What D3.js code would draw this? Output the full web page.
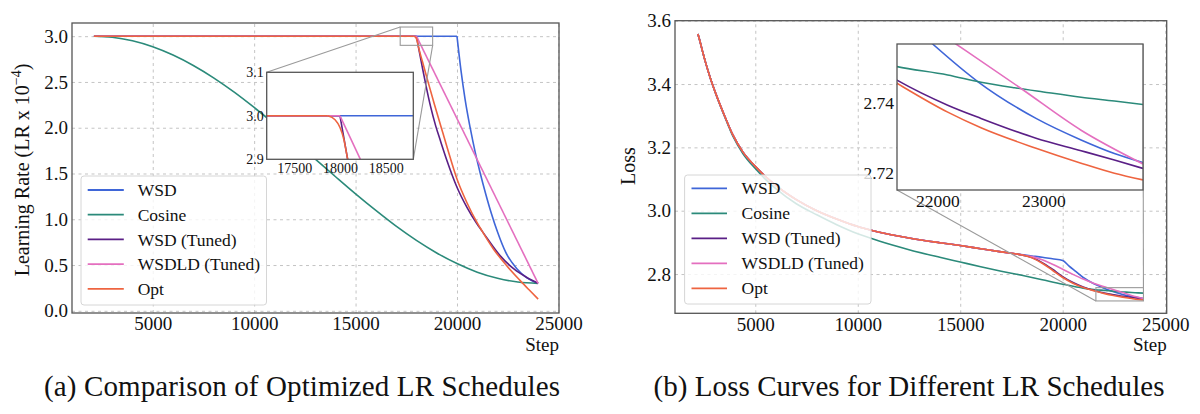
<!DOCTYPE html>
<html>
<head>
<meta charset="utf-8">
<script src="https://cdn.jsdelivr.net/npm/d3@7"></script>
<style>
  body { margin: 0; background: #fff; }
  text { font-family: "Liberation Serif", "Times New Roman", serif; fill: #111; }
</style>
</head>
<body>
<script>
// ---- series names / colours
var names = ["WSD", "Cosine", "WSD (Tuned)", "WSDLD (Tuned)", "Opt"];
var colors = ["#3f66d8", "#2b8a7a", "#5a1f86", "#e46fbf", "#ee6440"];

// ---- (a) learning-rate schedules (LR x 1e-4)
var lrWsdSteps = [2100, 20000, 20200, 20400, 20650, 20900, 21150, 21400, 21700, 22000, 22400, 22950, 23450, 24000];
var lrWsd      = [3.0, 3.0, 2.62, 2.31, 2.0, 1.73, 1.50, 1.29, 1.06, 0.86, 0.64, 0.46, 0.36, 0.30];

var lrCosSteps = [2100, 3000, 4000, 5000, 6000, 7000, 8000, 9000, 10000, 11000, 12000, 13000, 14000, 15000, 16000, 17000, 18000, 19000, 20000, 21000, 22000, 23000, 24000];
var lrCos      = [3.0, 2.989, 2.950, 2.885, 2.794, 2.680, 2.545, 2.391, 2.221, 2.041, 1.852, 1.660, 1.467, 1.277, 1.096, 0.924, 0.769, 0.632, 0.516, 0.422, 0.355, 0.314, 0.300];

var lrTunedSteps = [2100, 18000, 18100, 18300, 18500, 18700, 18950, 19180, 19508, 20000, 20492, 20985, 21231, 21477, 22133, 22790, 23446, 24000];
var lrTuned      = [3.0, 3.0, 2.88, 2.65, 2.43, 2.23, 2.02, 1.86, 1.64, 1.35, 1.13, 0.95, 0.873, 0.795, 0.60, 0.46, 0.364, 0.30];

var lrWsdldSteps = [2100, 18000, 24000];
var lrWsdld      = [3.0, 3.0, 0.30];

var lrOptSteps = [2100, 17866, 17946, 18000, 18043, 18079, 18300, 18600, 18900, 19180, 19508, 20000, 20492, 20985, 21231, 21805, 22462, 23118, 23528, 24000];
var lrOpt      = [3.0, 3.0, 2.991, 2.973, 2.945, 2.905, 2.72, 2.48, 2.245, 2.036, 1.79, 1.44, 1.18, 0.965, 0.873, 0.673, 0.49, 0.33, 0.235, 0.128];

// ---- (b) loss curves
// shared part while the LR is still constant
var lossStableSteps = [2200, 2300, 2450, 2600, 2800, 3100, 3500, 3900, 4400, 5000, 5500, 6000, 7000, 8000, 9000, 10000, 11000, 12500, 14000, 15000, 16000, 17000, 17866];
var lossStable      = [3.558, 3.535, 3.497, 3.462, 3.42, 3.365, 3.30, 3.24, 3.185, 3.14, 3.108, 3.08, 3.035, 3.0, 2.973, 2.95, 2.933, 2.914, 2.899, 2.89, 2.88, 2.87, 2.862];

var lossWsdSteps = [18500, 19000, 19500, 20000, 20300, 20600, 21000, 21500, 21956, 22381, 22931, 23356, 23670, 23940];
var lossWsd      = [2.857, 2.853, 2.848, 2.843, 2.826, 2.810, 2.789, 2.770, 2.757, 2.7462, 2.7356, 2.7294, 2.7255, 2.7229];

var lossCosSteps = [2200, 2300, 2450, 2600, 2800, 3100, 3500, 3900, 4400, 5000, 5500, 6000, 7000, 8000, 9000, 10000, 11000, 12500, 14000, 15000, 16000, 17000, 18000, 19000, 20000, 21000, 21620, 22098, 22412, 22727, 23000, 23356, 23670, 23940];
var lossCos      = [3.558, 3.535, 3.497, 3.462, 3.42, 3.364, 3.298, 3.236, 3.18, 3.133, 3.099, 3.07, 3.022, 2.987, 2.955, 2.927, 2.905, 2.877, 2.853, 2.838, 2.823, 2.809, 2.796, 2.782, 2.768, 2.7555, 2.7505, 2.7481, 2.746, 2.7444, 2.7432, 2.7417, 2.7406, 2.7396];

var lossTunedSteps = [18500, 19000, 19500, 20000, 20500, 21000, 21620, 22098, 22412, 22931, 23356, 23670, 23940];
var lossTuned      = [2.852, 2.836, 2.815, 2.792, 2.773, 2.759, 2.7466, 2.7394, 2.7356, 2.7299, 2.7263, 2.7236, 2.7212];

var lossWsdldSteps = [18500, 19000, 19500, 20000, 20500, 21000, 21500, 22176, 22790, 23356, 23940];
var lossWsdld      = [2.855, 2.845, 2.831, 2.815, 2.799, 2.784, 2.771, 2.757, 2.7442, 2.7322, 2.7225];

var lossOptSteps = [18500, 19000, 19500, 20000, 20500, 21000, 21620, 22098, 22412, 22931, 23356, 23670, 23940];
var lossOpt      = [2.851, 2.834, 2.812, 2.789, 2.771, 2.7575, 2.7457, 2.7374, 2.7329, 2.727, 2.7227, 2.7198, 2.7179];

// ---- ticks
var stepTicks = [5000, 10000, 15000, 20000, 25000];
var lrTicks = [0, 0.5, 1.0, 1.5, 2.0, 2.5, 3.0];
var lossTicks = [2.8, 3.0, 3.2, 3.4, 3.6];
var lrInsetX = [17500, 18000, 18500], lrInsetY = [2.9, 3.0, 3.1];
var lossInsetX = [22000, 23000], lossInsetY = [2.72, 2.74];

// build series tables
function ser(steps, vals) { return { steps: steps, vals: vals }; }
var lrSeries = [
  ser(lrWsdSteps, lrWsd), ser(lrCosSteps, lrCos), ser(lrTunedSteps, lrTuned),
  ser(lrWsdldSteps, lrWsdld), ser(lrOptSteps, lrOpt)
];
var lossSeries = [
  ser(lossStableSteps.concat(lossWsdSteps), lossStable.concat(lossWsd)),
  ser(lossCosSteps, lossCos),
  ser(lossStableSteps.concat(lossTunedSteps), lossStable.concat(lossTuned)),
  ser(lossStableSteps.concat(lossWsdldSteps), lossStable.concat(lossWsdld)),
  ser(lossStableSteps.concat(lossOptSteps), lossStable.concat(lossOpt))
];

var svg = d3.select("body").append("svg").attr("width", 1200).attr("height", 414);
var clipN = 0;

function kneeIndex(v) {
  var k = 0;
  while (k + 1 < v.length && v[k + 1] === v[0]) k++;
  return k;
}

function drawSeries(g, series, x, y, splitKnee) {
  series.forEach(function(s, i) {
    var pts = s.steps.map(function(d, j) { return [d, s.vals[j]]; });
    var k = splitKnee ? kneeIndex(s.vals) : 0;
    var lin = d3.line().x(function(d) { return x(d[0]); }).y(function(d) { return y(d[1]); });
    var mono = d3.line().curve(d3.curveMonotoneX).x(function(d) { return x(d[0]); }).y(function(d) { return y(d[1]); });
    if (k > 0) {
      g.append("path").attr("d", lin(pts.slice(0, k + 1)))
        .attr("fill", "none").attr("stroke", colors[i]).attr("stroke-width", 1.6);
    }
    g.append("path").attr("d", mono(pts.slice(k)))
      .attr("fill", "none").attr("stroke", colors[i]).attr("stroke-width", 1.6)
      .attr("stroke-linejoin", "round");
  });
}

function gridStyle(sel) {
  sel.select(".domain").remove();
  sel.selectAll("line").attr("stroke", "#c4c4c4").attr("stroke-width", 1).attr("stroke-dasharray", "3,3.5");
}

function labelStyle(sel, size) {
  sel.select(".domain").remove();
  sel.attr("font-family", null).attr("font-size", null);
  sel.selectAll("text").style("font-size", size + "px").attr("fill", "#111");
}

function clipRect(g, x0, y0, w, h) {
  var id = "clip" + (clipN++);
  g.append("clipPath").attr("id", id).append("rect")
    .attr("x", x0).attr("y", y0).attr("width", w).attr("height", h);
  return "url(#" + id + ")";
}

function panel(p) {
  var g = svg.append("g");
  var x = d3.scaleLinear().domain(p.xDomain).range([p.left, p.right]);
  var y = d3.scaleLinear().domain(p.yDomain).range([p.bottom, p.top]);
  var w = p.right - p.left, h = p.bottom - p.top;

  g.append("g").attr("transform", "translate(0," + p.bottom + ")")
    .call(d3.axisBottom(x).tickValues(stepTicks).tickSize(-h).tickFormat(""))
    .call(gridStyle);
  g.append("g").attr("transform", "translate(" + p.left + ",0)")
    .call(d3.axisLeft(y).tickValues(p.yTicks).tickSize(-w).tickFormat(""))
    .call(gridStyle);

  var lines = g.append("g").attr("clip-path", clipRect(g, p.left, p.top, w, h));
  drawSeries(lines, p.series, x, y, p.splitKnee);

  // zoom box + connectors
  var ins = p.inset;
  var rx0 = x(ins.xDomain[0]), rx1 = x(ins.xDomain[1]);
  var ry0 = y(ins.yDomain[1]), ry1 = y(ins.yDomain[0]);
  g.append("rect").attr("x", rx0).attr("y", ry0).attr("width", rx1 - rx0).attr("height", ry1 - ry0)
    .attr("fill", "none").attr("stroke", "#9a9a9a").attr("stroke-width", 1.1);
  var ic = { lt: [ins.left, ins.top], rt: [ins.right, ins.top], lb: [ins.left, ins.bottom], rb: [ins.right, ins.bottom] };
  var rc = { lt: [rx0, ry0], rt: [rx1, ry0], lb: [rx0, ry1], rb: [rx1, ry1] };
  ins.corners.forEach(function(c) {
    g.append("line").attr("x1", ic[c][0]).attr("y1", ic[c][1]).attr("x2", rc[c][0]).attr("y2", rc[c][1])
      .attr("stroke", "#9a9a9a").attr("stroke-width", 1.1);
  });

  g.append("rect").attr("x", p.left).attr("y", p.top).attr("width", w).attr("height", h)
    .attr("fill", "none").attr("stroke", "#555").attr("stroke-width", 1.3);

  g.append("g").attr("transform", "translate(0," + p.bottom + ")")
    .call(d3.axisBottom(x).tickValues(stepTicks).tickSize(0).tickPadding(4).tickFormat(d3.format("d")))
    .call(labelStyle, 19);
  g.append("g").attr("transform", "translate(" + p.left + ",0)")
    .call(d3.axisLeft(y).tickValues(p.yTicks).tickSize(0).tickPadding(4).tickFormat(d3.format(".1f")))
    .call(labelStyle, 19);

  g.append("text").attr("x", p.right).attr("y", 351).attr("text-anchor", "end")
    .style("font-size", "19px").text("Step");

  // y label
  var yl = g.append("text").attr("transform", "translate(" + p.yLabelX + "," + p.yLabelY + ") rotate(-90)")
    .attr("text-anchor", "middle").style("font-size", "20px");
  p.yLabel(yl);

  // inset axes
  var ix = d3.scaleLinear().domain(ins.xDomain).range([ins.left, ins.right]);
  var iy = d3.scaleLinear().domain(ins.yDomain).range([ins.bottom, ins.top]);
  var iw = ins.right - ins.left, ih = ins.bottom - ins.top;
  g.append("rect").attr("x", ins.left).attr("y", ins.top).attr("width", iw).attr("height", ih).attr("fill", "#fff");
  var il = g.append("g").attr("clip-path", clipRect(g, ins.left, ins.top, iw, ih));
  drawSeries(il, p.series, ix, iy, p.splitKnee);
  g.append("rect").attr("x", ins.left).attr("y", ins.top).attr("width", iw).attr("height", ih)
    .attr("fill", "none").attr("stroke", "#555").attr("stroke-width", 1.3);
  g.append("g").attr("transform", "translate(0," + ins.bottom + ")")
    .call(d3.axisBottom(ix).tickValues(ins.xTicks).tickSize(0).tickPadding(ins.xPad).tickFormat(d3.format("d")))
    .call(labelStyle, ins.font);
  g.append("g").attr("transform", "translate(" + ins.left + ",0)")
    .call(d3.axisLeft(iy).tickValues(ins.yTicks).tickSize(0).tickPadding(3).tickFormat(d3.format(ins.yFmt)))
    .call(labelStyle, ins.font);

  // legend
  var L = p.legend;
  var lg = g.append("g");
  lg.append("rect").attr("x", L.x).attr("y", L.y).attr("width", L.w).attr("height", L.h)
    .attr("rx", 3).attr("fill", "#fff").attr("fill-opacity", 0.8)
    .attr("stroke", "#d6d6d6").attr("stroke-width", 1);
  names.forEach(function(n, i) {
    var yy = L.row0 + i * L.dy;
    lg.append("line").attr("x1", L.hx0).attr("x2", L.hx1).attr("y1", yy).attr("y2", yy)
      .attr("stroke", colors[i]).attr("stroke-width", 1.8);
    lg.append("text").attr("x", L.tx).attr("y", yy).attr("dy", "0.35em")
      .style("font-size", "17.5px").text(n);
  });

  // caption
  g.append("text").attr("x", p.capX).attr("y", 396).attr("text-anchor", "middle")
    .attr("textLength", p.capW).attr("lengthAdjust", "spacing")
    .style("font-size", "29px").text(p.caption);
}

panel({
  left: 72, right: 559, top: 23, bottom: 313,
  xDomain: [1019, 25030], yDomain: [-0.024, 3.144],
  yTicks: lrTicks, series: lrSeries, splitKnee: true,
  yLabelX: 29, yLabelY: 170,
  yLabel: function(t) {
    t.append("tspan").text("Learning Rate (LR x 10");
    t.append("tspan").attr("dy", -8).style("font-size", "14px").text("\u22124");
    t.append("tspan").attr("dy", 8).text(")");
  },
  inset: {
    left: 266.7, right: 413.3, top: 72.3, bottom: 159.3,
    xDomain: [17200, 18800], yDomain: [2.9, 3.1],
    xTicks: lrInsetX, yTicks: lrInsetY, yFmt: ".1f", font: 14, xPad: 4,
    corners: ["lt", "rb"]
  },
  legend: { x: 81, y: 176, w: 185.5, h: 129, row0: 190, dy: 24.7, hx0: 87.7, hx1: 123.8, tx: 137.7 },
  caption: "(a) Comparison of Optimized LR Schedules", capX: 302, capW: 516
});

panel({
  left: 675, right: 1166.7, top: 20.7, bottom: 313.3,
  xDomain: [1082, 25075], yDomain: [2.676, 3.6],
  yTicks: lossTicks, series: lossSeries, splitKnee: false,
  yLabelX: 634.6, yLabelY: 166,
  yLabel: function(t) { t.text("Loss"); },
  inset: {
    left: 897, right: 1143, top: 44, bottom: 190,
    xDomain: [21620, 23940], yDomain: [2.715, 2.757],
    xTicks: lossInsetX, yTicks: lossInsetY, yFmt: ".2f", font: 17.5, xPad: 4.5,
    corners: ["lb", "rt"]
  },
  legend: { x: 684.6, y: 175, w: 186.4, h: 129, row0: 188.3, dy: 25, hx0: 691.5, hx1: 727, tx: 741.5 },
  caption: "(b) Loss Curves for Different LR Schedules", capX: 909, capW: 511
});
</script>
</body>
</html>
